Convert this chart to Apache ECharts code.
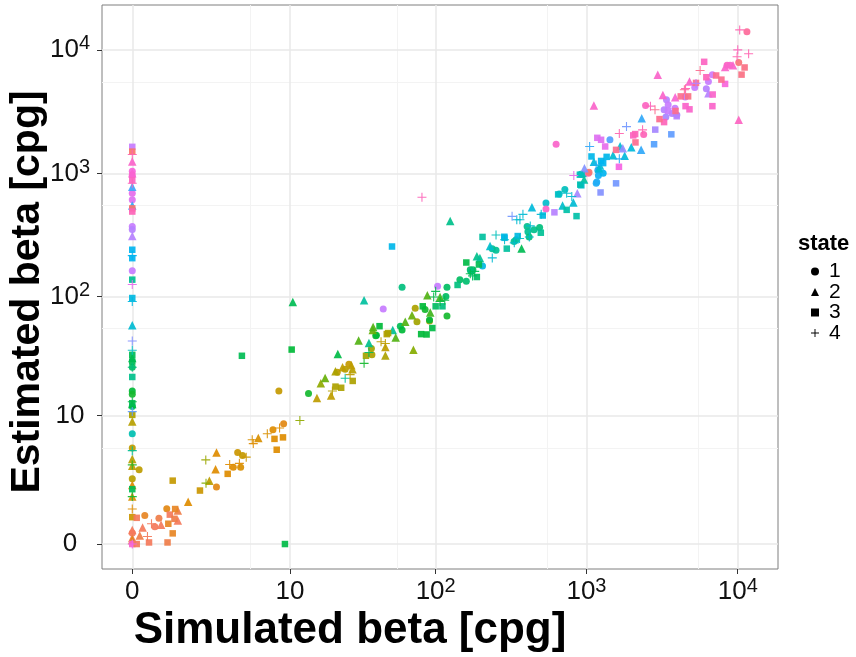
<!DOCTYPE html>
<html><head><meta charset="utf-8">
<script src="https://cdn.jsdelivr.net/npm/echarts@6/dist/echarts.min.js"></script>
<style>html,body{margin:0;padding:0;background:#fff}#c{width:856px;height:657px}</style>
</head><body><div id="c"></div>
<script>
// ---- data (values in cpg; third value = colour hue level) ----
const tickValues = [0, 10, 100, 1000, 10000];
const tickLabels = ['0', '10', '10^2', '10^3', '10^4'];
const minorValues = [5, 55, 550, 5500];
const stateNames = ['1', '2', '3', '4'];
const xTitle = 'Simulated beta [cpg]';
const yTitle = 'Estimated beta [cpg]';
const legendTitle = 'state';
const huePalette = ['#F8766D','#DE8C00','#B79F00','#7CAE00','#00BA38','#00C08B','#00BFC4','#00B4F0','#619CFF','#C77CFF','#F564E3','#FF64B0','#F8766D'];

// state 1 (circles): [simulated, estimated, hue]
const state1 = [
 [0,1040,320],[0,970,330],[0,690,305],[0,610,300],[0,370,285],[0,350,280],[0,162,285],[0,26,150],[0,16.3,135],[0,15.3,130],[0,12,160],[0,6.8,185],[0,4.98,70],[0,2.37,75],[0,0.23,20],
 [0.11,3.0,70],[0.21,0.7,35],[0.41,0.38,20],[0.5,0.62,25],[0.69,0.93,40],[2.6,1.9,40],[3.65,3.18,45],[4.2,3.18,50],[3.97,4.5,60],[4.35,4.2,65],[7.5,7.4,45],[9.0,8.4,40],[8.3,16.3,65],
 [13.6,15.5,130],[21.6,23.6,70],[24.5,25,75],[26,27.5,65],[37,37.2,85],[37.3,33,80],[39.6,47.6,130],[40,48,135],[58,57,145],[59.6,53,135],[44.5,79,285],[59.6,119,160],
 [73,80,80],[75,62,85],[91,63,80],[85,78,130],[91,64,135],[119,69,130],[119,119,150],[117,100,150],[103,121,285],[145,137,150],[160,133,155],[170,165,150],[177,165,155],[172,160,160],
 [205,177,215],[252,238,170],[238,245,170],[332,280,170],[342,289,175],[405,370,165],[410,336,170],[418,305,160],[450,349,165],[490,364,160],
 [540,575,200],[540,513,330],[660,680,195],[720,740,190],[960,985,185],[918,985,190],[1030,1000,340],[1170,850,235],[630,1720,330],
 [1160,830,235],[1200,960,230],[1290,1000,225],[1190,1060,235],[1040,1020,15],[1430,1870,250],[2390,2060,340],[2460,3550,335],
 [3380,3940,280],[3470,3590,285],[3680,3050,280],[3350,2860,275],[3260,3270,280],[3850,3370,285],[3960,2970,270],
 [6800,6300,290],[6400,5530,285],[6200,4840,280],[5200,4950,285],[4500,4150,285],[8500,7500,335],[8900,7500,330],[10150,7900,370],[11500,14000,355]
];
// state 2 (triangles)
const state2 = [
 [0,1250,330],[0,1000,325],[0,780,245],[0,550,240],[0,310,280],[0,58,205],[0,31,140],[0,12.6,135],[0,8.8,75],[0,3.87,75],[0,3.3,70],[0,2.0,45],[0,1.43,50],[0,0.3,20],[0,0.12,25],[0,0.08,40],
 [0.17,0.36,20],[0.12,0.17,25],[0.55,0.43,20],[1.0,0.55,20],[1.0,0.87,25],[1.34,1.2,45],[2.23,2.25,70],[2.6,4.5,45],[2.55,3.04,45],[5.8,6.2,50],[10.5,90,145],
 [15.6,14.2,70],[16.6,19,95],[17.8,21.1,110],[19.6,14.9,70],[21,24,80],[23.5,26,70],[27.5,25,75],[27,27,70],[21.8,33.5,140],[35.6,41.3,165],[30.3,43.5,115],[37.8,53,110],
 [46,38.3,70],[46,32.6,80],[51.6,53,170],[54,46,115],[71,36.3,100],[38,56,115],[33,93,175],[62.6,62,115],[69.5,70,110],[88,102,115],[92,74,120],[107,99,120],
 [125,410,165],[188,212,165],[197,206,170],[230,257,200],[372,246,145],[436,532,210],[695,550,200],[820,580,205],[870,690,275],[965,890,175],
 [1120,1240,210],[1210,1100,205],[1230,1160,205],[1500,1400,205],[1790,1390,210],[1980,1630,210],[1670,1660,205],[2300,1550,240],[2320,2800,240],
 [970,1100,265],[1740,1600,270],[3200,4300,330],[3860,4140,325],[4800,5530,330],[8250,7250,330],[9300,7500,330],[6400,4450,280],
 [1120,3540,330],[2960,6300,330],[10150,2720,335]
];
// state 3 (squares)
const state3 = [
 [0,1640,285],[0,1500,15],[0,880,335],[0,520,15],[0,490,340],[0,240,225],[0,205,225],[0,137,170],[0,97,215],[0,33,145],[0,29,145],[0,21.5,165],[0,12.8,145],[0,10.1,80],[0,1.78,145],[0,0.65,60],[0,0,330],
 [0.07,0.63,20],[0.07,0,20],[0.29,0.03,20],[0.71,0.03,25],[0.85,0.22,35],[0.73,0.46,35],[0.77,0.73,20],[0.9,0.6,25],[0.92,0.92,35],[0.85,2.26,65],[1.8,1.71,60],[3.27,2.7,45],
 [7.7,6.1,45],[8.0,4.8,45],[8.9,6.3,45],[9.2,0,140],[4.3,32.4,145],[10.3,36.5,135],
 [21,17.8,80],[23,17.4,80],[27.6,19.9,80],[34,32.4,85],[47,49,75],[48,50,80],[80,49,135],[95,55,140],[42,57,135],[51,255,220],
 [82,83,135],[87,48.7,135],[100,83,150],[111,83,160],[140,124,160],[160,189,140],[188,144,150],[194,182,145],[205,305,175],[286,306,215],[287,300,220],[351,310,215],[297,245,175],[499,330,170],
 [514,455,215],[740,506,180],[860,450,180],[650,675,195],[925,800,205],[910,810,185],[905,975,190],[614,483,280],
 [1080,1370,220],[1250,1260,220],[1290,1210,225],[1360,1360,220],[2800,1720,250],[3640,2070,255],
 [1240,700,265],[1570,830,260],[2850,2260,275],[3950,2900,280],[3470,3200,285],
 [1180,1940,300],[1250,1870,300],[1330,1650,305],[1640,1130,315],[1570,1550,360],[2110,1780,360],
 [2040,2030,335],[2100,2080,340],[3260,2600,340],[4800,3300,330],[6000,8000,335],[6800,3500,330],[6830,4350,330],[8250,5300,320],[6200,6000,340],[4520,3500,330],
 [3040,2750,360],[3880,3200,360],[4200,4200,360],[4700,4200,365],[5300,5400,360],[7200,6200,360],[7800,5740,360],[10600,6300,365],[11100,7200,365]
];
// state 4 (plus)
const state4 = [
 [0,1420,345],[0,830,340],[0,215,225],[0,125,305],[0,91,215],[0,43,265],[0,36,195],[0,26,160],[0,13.2,140],[0,10.8,255],[0,4.7,170],[0,3.37,125],[0,1.42,130],[0,0.92,45],[0,0,310],
 [0.26,0.15,20],[0.34,0.46,20],[2.07,2.11,100],[2.06,3.8,90],[3.4,3.4,45],[4.1,3.5,45],[4.66,4.05,60],[5.2,5.98,50],[5.3,5.5,45],[6.8,6.8,50],[8.4,7.7,45],[11.8,9.0,95],
 [20,16.3,75],[24.5,21,170],[26.5,22.5,70],[33,28,130],[35.6,34.5,150],[43,42.4,70],[46,41,70],[100,110,140],[107,91,135],[115,93,140],[97,99,140],[170,153,140],[176,147,150],[182,160,145],
 [81,640,340],[238,206,205],[252,316,190],[287,289,200],[333,273,200],[361,296,195],[419,305,200],[346,420,205],[380,465,205],[363,420,200],[425,375,200],[502,465,205],[322,448,260],
 [740,690,200],[800,650,205],[825,960,305],[1160,1170,235],
 [1050,1650,240],[1840,2390,260],[1650,2100,345],[1650,1310,235],[2350,2250,345],[2650,3500,340],[2840,3270,360],[4440,4760,360],[4520,4850,345],[5640,6800,360],[5300,5350,280],
 [10000,10000,340],[11800,9300,345],[9900,8800,345],[10300,14500,345]
];

// ---- helpers ----
const T = v => Math.log10(1 + v);
const toPts = arr => arr.map(d => [T(d[0]), T(d[1]), d[2]]);
const majorPos = tickValues.map(T);
const minorPos = minorValues.map(T);
function fmt(v) {
  let best = 0, bd = 1e9;
  majorPos.forEach((p, i) => { const d = Math.abs(p - v); if (d < bd) { bd = d; best = i; } });
  const s = tickLabels[best];
  const m = s.match(/^(\d+)\^(\d+)$/);
  return m ? '{b|' + m[1] + '}{sup|' + m[2] + '}' : '{b|' + s + '}';
}
const FONT = '"Liberation Sans", Arial, Helvetica, sans-serif';
const richLab = {
  b: { fontSize: 26, lineHeight: 26, fontFamily: FONT, color: '#111', verticalAlign: 'bottom' },
  sup: { fontSize: 20, lineHeight: 20, fontFamily: FONT, color: '#111', verticalAlign: 'bottom', padding: [0, 0, 9, 0] }
};
const plusPath = 'path://M4.4,0H5.6V4.4H10V5.6H5.6V10H4.4V5.6H0V4.4H4.4Z';
const symbols = ['circle', 'triangle', 'rect', plusPath];
const sizes = [7, 8.5, 6.5, 9];
const datasets = [state1, state2, state3, state4];

const XMIN = -0.2, XMAX = 4.266, YMIN = -0.202, YMAX = 4.363;

function majorAxis(isX) {
  return {
    type: 'value', min: isX ? XMIN : YMIN, max: isX ? XMAX : YMAX,
    position: isX ? 'bottom' : 'left',
    axisLine: { show: false, onZero: false },
    axisTick: { show: true, length: 5, lineStyle: { color: '#333', width: 1 }, customValues: majorPos },
    axisLabel: { show: true, customValues: majorPos, formatter: fmt, rich: richLab,
      margin: isX ? 10 : 32, align: 'center' },
    splitLine: { show: true, lineStyle: { color: '#e8e8e8', width: 1.5 } },
    name: isX ? xTitle : yTitle, nameLocation: 'middle', nameGap: isX ? 40 : 54, nameMoveOverlap: false,
    nameTextStyle: isX ? { fontSize: 44, fontWeight: 'bold', fontFamily: FONT, color: '#000', lineHeight: 44, padding: [0, 180, 0, 0] }
                       : { fontSize: 41, fontWeight: 'bold', fontFamily: FONT, color: '#000', lineHeight: 41, padding: [0, 10, 0, 0] },
    z: 1
  };
}
function minorAxis(isX) {
  return {
    type: 'value', min: isX ? XMIN : YMIN, max: isX ? XMAX : YMAX,
    position: isX ? 'bottom' : 'left',
    axisLine: { show: false, onZero: false },
    axisTick: { show: false, customValues: minorPos },
    axisLabel: { show: false, customValues: minorPos },
    splitLine: { show: true, lineStyle: { color: '#f3f3f3', width: 1 } },
    z: 0
  };
}

const series = datasets.map((d, i) => ({
  name: stateNames[i], type: 'scatter', xAxisIndex: 1, yAxisIndex: 1,
  symbol: symbols[i], symbolSize: sizes[i], data: toPts(d),
  itemStyle: { opacity: 0.92 }, z: 5
}));

const chart = echarts.init(document.getElementById('c'), null, { renderer: 'canvas' });
chart.setOption({
  backgroundColor: '#fff',
  animation: false,
  grid: { left: 102, right: 78, top: 5, bottom: 88, show: true, borderColor: '#7f7f7f', borderWidth: 1, backgroundColor: '#fff', outerBoundsMode: 'none', containLabel: false },
  xAxis: [minorAxis(true), majorAxis(true)],
  yAxis: [minorAxis(false), majorAxis(false)],
  visualMap: { show: false, type: 'continuous', dimension: 2, min: 15, max: 375, seriesIndex: [0, 1, 2, 3], inRange: { color: huePalette } },
  title: { text: legendTitle, left: 798, top: 233, padding: 0, textStyle: { fontSize: 22, fontWeight: 'bold', fontFamily: FONT, color: '#000', lineHeight: 22 } },
  legend: {
    orient: 'vertical', left: 806, top: 256, itemWidth: 8, itemHeight: 8, itemGap: -0.5,
    selectedMode: false,
    textStyle: { fontSize: 21, fontFamily: FONT, color: '#000', lineHeight: 18, padding: [0, 0, 0, 5] },
    data: stateNames.map((n, i) => ({ name: n, icon: symbols[i], itemStyle: { color: '#000', opacity: 1 } }))
  },
  series: series
});
</script></body></html>
